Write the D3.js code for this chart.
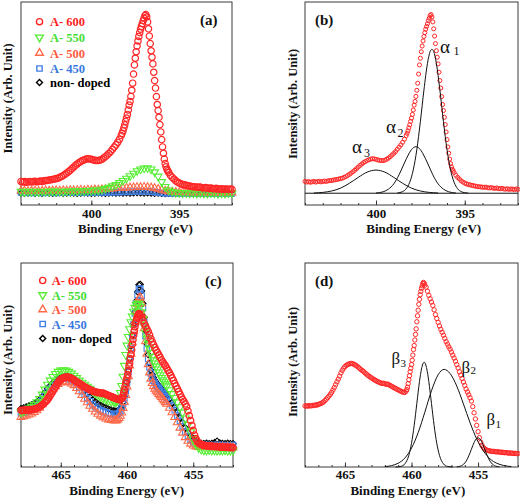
<!DOCTYPE html>
<html><head><meta charset="utf-8">
<script src="https://cdn.jsdelivr.net/npm/d3@7"></script>
<style>
body{margin:0;background:#fff}
svg{display:block}
</style>
</head><body>
<svg id="chart" width="520" height="498"></svg>
<script>
// ---------------- DATA ----------------
const legendLabels = ["A- 600", "A- 550", "A- 500", "A- 450", "non- doped"];
const xTitle = "Binding Energy (eV)";
const yTitle = "Intensity (Arb. Unit)";
const panelTags = ["(a)", "(b)", "(c)", "(d)"];
const n1sMajorTicks = [400, 395];
const n1sMinorTicks = [404,403,402,401,400,399,398,397,396,395,394,393,392];
const ti2pMajorTicks = [465, 460, 455];
const ti2pMinorTicks = [468,467,466,465,464,463,462,461,460,459,458,457,456,455,454,453,452];

// N 1s, A-600 : [binding energy, intensity]
const n1sA600 = [
[404.0,11.6],[403.9,11.3],[403.8,11.5],[403.7,11.2],[403.6,11.4],[403.5,11.6],[403.4,11.3],[403.3,11.5],[403.2,11.7],[403.1,11.4],
[403.0,11.6],[402.9,11.8],[402.8,11.6],[402.7,11.9],[402.6,12.0],[402.5,12.1],[402.4,12.3],[402.3,12.4],[402.2,12.6],[402.1,12.8],
[402.0,13.0],[401.9,13.2],[401.8,13.6],[401.7,14.0],[401.6,14.5],[401.5,15.1],[401.4,15.7],[401.3,16.4],[401.2,17.1],[401.1,17.9],
[401.0,18.7],[400.9,19.5],[400.8,20.2],[400.7,20.9],[400.6,21.4],[400.5,21.9],[400.4,22.3],[400.3,22.6],[400.2,22.8],[400.1,22.7],
[400.0,22.5],[399.9,22.2],[399.8,22.0],[399.7,21.9],[399.6,21.9],[399.5,22.1],[399.4,22.5],[399.3,23.1],[399.2,23.8],[399.1,24.6],
[399.0,25.4],[398.9,26.3],[398.8,27.4],[398.7,28.5],[398.6,29.6],[398.5,30.9],[398.4,32.4],[398.3,34.2],
[398.25,35.3],[398.20,36.5],[398.15,38.0],[398.10,39.5],[398.05,41.2],[398.00,42.8],[397.95,44.6],[397.90,46.8],[397.85,49.2],[397.80,51.0],
[397.75,53.5],[397.70,56.5],[397.65,60.0],[397.60,64.5],[397.55,69.0],[397.50,72.3],[397.45,75.5],[397.40,78.3],[397.35,80.8],[397.30,83.0],
[397.25,84.9],[397.20,86.6],[397.15,88.0],[397.10,89.3],[397.05,90.8],[397.00,92.0],[396.95,93.3],[396.90,93.8],[396.85,92.6],[396.80,90.2],
[396.75,86.8],[396.70,83.2],[396.65,79.5],[396.60,76.0],[396.55,72.8],[396.50,69.5],[396.45,65.4],[396.40,61.3],[396.35,57.6],[396.30,53.4],
[396.25,49.5],[396.20,46.5],[396.15,43.2],[396.10,39.6],[396.05,36.0],[396.00,32.2],[395.95,28.6],[395.90,25.5],[395.85,22.6],[395.80,20.4],
[395.75,18.8],[395.70,17.6],[395.65,16.8],
[395.6,16.0],[395.5,14.6],[395.4,13.6],[395.3,12.8],[395.2,11.9],[395.1,11.3],[395.0,10.8],[394.9,10.4],[394.8,10.1],[394.7,9.9],
[394.6,9.7],[394.5,9.5],[394.4,9.3],[394.3,9.1],[394.2,9.0],[394.1,8.9],[394.0,8.8],[393.9,8.7],[393.8,8.8],[393.7,8.5],
[393.6,8.4],[393.5,8.6],[393.4,8.3],[393.3,8.2],[393.2,8.4],[393.1,8.1],[393.0,8.0],[392.9,8.2],[392.8,7.9],[392.7,7.8],
[392.6,8.0],[392.5,7.7],[392.4,7.9],[392.3,7.8],[392.2,7.6],[392.1,7.9],[392.0,7.7]
];
// N 1s, other samples on a common energy grid
const n1sGrid = [404.0,403.8,403.6,403.4,403.2,403.0,402.8,402.6,402.4,402.2,
402.0,401.8,401.6,401.4,401.2,401.0,400.8,400.6,400.4,400.2,
400.0,399.8,399.6,399.4,399.2,399.0,398.8,398.6,398.4,398.2,
398.0,397.8,397.6,397.4,397.2,397.0,396.8,396.6,396.4,396.2,
396.0,395.8,395.6,395.4,395.2,395.0,394.8,394.6,394.4,394.2,
394.0,393.8,393.6,393.4,393.2,393.0,392.8,392.6,392.4,392.2,392.0];
const n1sA550 = [6.6,6.4,6.7,6.5,6.6,6.4,6.7,6.5,6.6,6.8,
6.6,6.7,6.5,6.8,6.7,6.9,6.8,7.0,6.9,7.1,
7.0,7.2,7.3,7.6,8.1,8.6,9.3,10.0,10.9,12.0,
13.1,14.3,15.5,16.8,17.6,18.1,18.2,17.6,16.2,14.1,
11.4,9.0,7.3,6.5,6.1,6.0,5.9,6.0,5.8,5.9,
5.7,5.9,5.8,5.7,5.9,5.8,5.6,5.8,5.7,5.9,5.8];
const n1sA500 = [7.0,7.1,6.9,7.0,7.1,6.9,7.0,7.2,7.0,7.1,
7.2,7.0,7.2,7.1,7.3,7.2,7.3,7.4,7.3,7.5,
7.4,7.6,7.5,7.7,7.8,7.9,8.0,8.2,8.3,8.4,
8.5,8.6,8.7,8.8,8.8,8.9,8.8,8.6,8.3,7.9,
7.4,7.0,6.7,6.5,6.4,6.3,6.4,6.2,6.3,6.1,
6.2,6.3,6.1,6.2,6.0,6.2,6.1,6.0,6.2,6.1,6.0];
const n1sA450 = [6.1,6.0,6.1,5.9,6.0,6.1,5.9,6.0,6.1,6.0,
5.9,6.1,6.0,6.1,6.0,6.1,6.0,6.2,6.1,6.0,
6.2,6.1,6.2,6.1,6.3,6.2,6.3,6.4,6.3,6.5,
6.4,6.6,6.5,6.7,6.6,6.7,6.6,6.5,6.3,6.1,
5.9,5.8,5.7,5.8,5.6,5.7,5.6,5.8,5.6,5.7,
5.6,5.5,5.7,5.6,5.5,5.7,5.6,5.5,5.6,5.5,5.6];
const n1sUndoped = [5.8,5.7,5.8,5.9,5.7,5.8,5.7,5.9,5.8,5.7,
5.8,5.9,5.7,5.8,5.9,5.8,5.7,5.8,5.9,5.8,
5.7,5.8,5.9,5.8,5.7,5.8,5.9,5.8,5.9,5.8,
5.9,5.8,5.9,6.0,5.9,5.8,5.9,5.8,5.7,5.8,
5.7,5.6,5.7,5.6,5.7,5.6,5.5,5.6,5.7,5.6,
5.5,5.6,5.5,5.6,5.7,5.5,5.6,5.5,5.6,5.5,5.6];

// N 1s fit (panel b)
const n1sFitBaseline = 5.8;
const alpha1 = [[398.8,5.9],[398.5,6.6],[398.3,8.0],[398.1,11.2],[397.9,17.3],[397.7,27.3],[397.5,41.1],[397.3,56.6],[397.1,69.8],[396.95,75.6],
[396.85,76.7],[396.75,75.6],[396.6,69.8],[396.4,56.6],[396.2,41.1],[396.0,27.3],[395.8,17.3],[395.6,11.2],[395.4,8.0],[395.2,6.6],[395.0,6.05],[394.8,5.85]];
const alpha2 = [[400.0,5.9],[399.6,6.5],[399.3,7.8],[399.0,10.4],[398.7,14.9],[398.4,20.7],[398.15,25.2],[397.95,27.8],[397.75,28.7],
[397.55,27.8],[397.35,25.2],[397.1,20.7],[396.8,14.9],[396.5,10.4],[396.2,7.8],[395.9,6.5],[395.5,5.9]];
const alpha3 = [[403.5,5.9],[403.0,6.2],[402.5,6.9],[402.0,8.3],[401.5,10.7],[401.0,13.6],[400.5,16.2],[400.0,17.2],
[399.5,16.2],[399.0,13.6],[398.5,10.7],[398.0,8.3],[397.5,6.9],[397.0,6.2],[396.5,5.9]];

// Ti 2p, A-600 : [binding energy, intensity]
const ti2pA600 = [
[468.0,30.8],[467.9,30.6],[467.8,30.9],[467.7,30.7],[467.6,31.0],[467.5,30.8],[467.4,31.1],[467.3,31.0],[467.2,31.3],[467.1,31.2],
[467.0,31.5],[466.9,31.8],[466.8,32.0],[466.7,32.4],[466.6,32.8],[466.5,33.5],[466.4,34.2],[466.3,34.9],[466.2,35.7],[466.1,36.6],
[466.0,37.6],[465.9,38.8],[465.8,40.1],[465.7,41.5],[465.6,42.9],[465.5,44.3],[465.4,45.8],[465.3,47.4],[465.2,48.7],[465.1,49.8],
[465.0,50.6],[464.9,51.2],[464.8,51.6],[464.7,51.9],[464.6,52.1],[464.5,52.2],[464.4,52.0],[464.3,51.7],[464.2,51.3],[464.1,50.8],
[464.0,50.3],[463.9,49.7],[463.8,49.1],[463.7,48.6],[463.6,48.1],[463.5,47.5],[463.4,46.9],[463.3,46.3],[463.2,45.8],[463.1,45.3],
[463.0,44.9],[462.9,44.4],[462.8,44.0],[462.7,43.6],[462.6,43.2],[462.5,42.9],[462.4,42.6],[462.3,42.3],[462.2,42.1],[462.1,42.2],
[462.0,41.9],[461.9,41.7],[461.8,41.8],[461.7,41.4],[461.6,41.1],[461.5,40.7],[461.4,40.3],[461.3,39.9],[461.2,39.6],[461.1,39.2],
[461.0,38.9],[460.9,38.5],[460.8,38.2],[460.7,37.9],[460.6,37.6],[460.5,37.6],[460.4,38.3],
[460.35,39.0],[460.30,40.2],[460.25,42.0],[460.20,44.0],[460.15,46.0],[460.10,48.0],[460.05,49.8],[460.00,51.6],[459.95,53.8],[459.90,56.4],
[459.85,59.2],[459.80,61.2],[459.75,64.0],[459.70,66.8],[459.65,69.6],[459.60,73.2],[459.55,76.2],[459.50,79.0],[459.45,82.0],[459.40,84.5],
[459.35,86.8],[459.30,88.5],[459.25,90.0],[459.20,91.3],[459.15,92.4],[459.10,93.0],[459.05,92.6],[459.00,91.6],
[458.9,90.6],[458.8,88.6],[458.7,86.5],[458.6,84.8],[458.5,83.1],[458.4,81.4],[458.3,79.2],[458.2,76.8],[458.1,74.8],[458.0,72.9],
[457.9,71.1],[457.8,69.4],[457.7,67.9],[457.6,66.4],[457.5,64.8],[457.4,63.2],[457.3,61.9],[457.2,60.6],[457.1,59.4],[457.0,57.9],
[456.9,56.4],[456.8,54.9],[456.7,53.3],[456.6,51.6],[456.5,49.9],[456.4,48.0],[456.3,46.3],[456.2,44.6],[456.1,42.8],[456.0,41.1],
[455.9,39.3],[455.8,37.8],[455.7,36.4],[455.6,34.9],[455.5,33.2],[455.4,30.4],[455.3,27.3],[455.2,24.2],[455.1,21.0],[455.0,17.8],
[454.9,14.8],[454.8,12.5],[454.7,10.9],[454.6,9.8],[454.5,9.1],[454.4,8.7],[454.3,8.4],[454.2,8.2],[454.1,8.1],[454.0,7.9],
[453.9,7.8],[453.8,7.9],[453.7,7.7],[453.6,7.6],[453.5,7.7],[453.4,7.5],[453.3,7.4],[453.2,7.5],[453.1,7.3],[453.0,7.2],
[452.9,7.3],[452.8,7.1],[452.7,7.0],[452.6,7.1],[452.5,6.9],[452.4,7.0],[452.3,6.8],[452.2,6.9],[452.1,6.7],[452.0,6.8]
];
// Ti 2p, other samples on a common energy grid
const ti2pGrid = [468.0,467.8,467.6,467.4,467.2,467.0,466.8,466.6,466.4,466.2,466.0,465.8,465.6,465.4,465.2,465.0,464.8,464.6,464.4,464.2,
464.0,463.8,463.6,463.4,463.2,463.0,462.8,462.6,462.4,462.2,462.0,461.8,461.6,461.4,461.2,
461.0,460.9,460.8,460.7,460.6,460.5,460.4,460.3,460.2,460.1,460.0,459.9,459.8,459.7,459.6,459.5,459.4,459.3,459.2,459.1,
459.0,458.9,458.8,458.7,458.6,458.5,458.4,458.3,458.2,458.1,458.0,457.9,457.8,457.7,457.6,457.5,457.4,457.3,457.2,457.1,457.0,
456.8,456.6,456.4,456.2,456.0,455.8,455.6,455.4,455.2,455.0,454.8,454.6,454.4,454.2,454.0,453.8,453.6,453.4,453.2,453.0,
452.8,452.6,452.4,452.2,452.0];
const ti2pA550 = [29.6,30.3,31.1,32.0,33.1,34.4,36.0,38.2,41.0,44.2,47.3,50.0,52.3,54.2,55.6,56.4,56.7,56.4,55.6,54.5,
53.1,51.6,50.0,48.6,47.3,46.0,44.7,43.3,41.8,40.5,39.4,38.5,37.7,37.0,36.5,
36.2,36.1,36.3,37.2,39.0,42.0,46.5,52.5,59.5,66.5,72.5,78.0,83.0,87.5,91.2,94.3,96.8,98.6,99.5,99.3,
97.5,94.0,89.5,85.0,80.8,77.0,73.7,70.6,67.8,65.2,63.0,61.0,59.0,57.1,55.2,53.4,51.7,50.2,48.9,47.6,46.3,
43.8,41.3,38.8,36.0,32.9,29.4,25.6,21.4,16.8,12.2,8.8,6.7,5.6,5.2,5.1,5.3,5.0,5.2,4.9,5.1,
5.0,5.2,4.9,5.1,5.0];
const ti2pA500 = [26.3,26.8,27.3,27.9,28.6,29.5,30.7,32.3,34.5,37.2,39.9,42.3,44.4,46.1,47.5,48.5,49.0,49.1,48.7,47.9,
46.8,45.0,42.9,40.5,38.1,35.8,33.6,31.6,29.9,28.4,27.2,26.2,25.4,24.8,24.4,
24.2,24.1,24.3,24.8,25.7,27.1,29.2,32.2,36.0,40.5,46.0,52.5,59.5,67.0,74.5,81.5,88.0,94.0,99.0,102.8,
103.4,99.5,92.0,83.5,75.0,67.0,60.3,55.0,51.0,48.2,46.2,44.6,43.3,42.2,41.2,40.2,39.2,38.1,37.0,35.9,34.8,
32.3,29.4,26.3,22.9,19.5,16.3,13.4,11.0,9.2,8.0,7.4,7.1,7.0,7.2,6.9,7.1,7.0,6.8,7.0,6.9,
7.1,6.8,7.0,6.9,6.8];
const ti2pA450 = [28.9,29.3,29.8,30.4,31.1,32.0,33.2,34.8,37.0,39.8,42.5,44.8,46.8,48.4,49.7,50.6,51.1,51.2,50.8,50.1,
49.1,47.4,45.4,43.1,40.8,38.6,36.6,34.7,33.2,31.9,30.9,30.1,29.5,28.9,28.5,
28.3,28.1,28.2,28.5,29.2,30.4,32.3,35.0,38.6,43.0,48.5,55.5,63.0,71.0,78.5,86.0,93.0,99.5,105.0,108.8,
109.0,104.5,96.5,87.5,78.5,70.5,63.8,58.5,54.5,51.8,49.8,48.3,47.0,45.9,44.9,43.9,42.9,41.9,40.9,39.9,38.9,
36.7,33.9,30.8,27.4,23.8,20.4,17.1,14.2,11.9,10.2,9.1,8.6,8.4,8.3,8.5,8.2,8.4,8.3,8.6,8.2,
8.4,8.1,8.3,8.2,8.4];
const ti2pUndoped = [31.9,32.4,33.0,33.6,34.3,35.1,36.2,37.6,39.6,42.2,44.6,46.6,48.3,49.8,51.0,51.9,52.5,52.7,52.4,51.9,
51.1,49.6,47.8,45.6,43.3,41.3,39.5,37.6,36.3,35.0,34.1,33.2,32.5,31.7,31.0,
30.5,30.2,30.1,30.3,30.8,31.8,33.4,36.0,39.5,43.5,49.0,56.0,64.0,72.0,79.0,86.5,94.0,101.0,107.0,111.5,
111.8,107.5,99.5,90.5,82.0,73.5,66.5,61.0,56.5,53.8,51.8,50.1,48.7,47.5,46.5,45.4,44.3,43.3,42.3,41.3,40.3,
38.2,35.6,32.6,29.5,26.0,22.8,19.6,16.6,14.2,12.2,10.6,9.8,9.5,9.4,9.6,9.3,9.5,9.9,10.9,9.8,
9.5,9.3,9.6,9.4,9.3];

// Ti 2p fit (panel d)
const beta1 = [[456.6,0.1],[456.3,0.5],[456.0,2.0],[455.8,4.1],[455.6,7.2],[455.4,10.7],[455.2,13.6],[455.0,14.7],
[454.8,13.6],[454.6,10.7],[454.4,7.2],[454.2,4.1],[454.0,2.0],[453.7,0.5],[453.4,0.1]];
const beta2 = [[462.0,0.2],[461.5,0.7],[461.0,1.9],[460.5,4.5],[460.0,9.5],[459.5,17.3],[459.0,27.6],[458.5,38.4],[458.0,46.5],[457.55,49.2],
[457.1,47.1],[456.6,40.8],[456.1,31.8],[455.6,22.3],[455.1,14.1],[454.6,8.1],[454.1,4.1],[453.6,1.9],[453.1,0.8],[452.5,0.2]];
const beta3 = [[461.2,0.0],[460.8,0.3],[460.5,1.6],[460.2,5.9],[460.0,11.9],[459.8,20.9],[459.6,32.0],[459.4,43.1],[459.25,49.4],[459.05,52.8],
[458.85,49.4],[458.7,43.1],[458.5,32.0],[458.3,20.9],[458.1,11.9],[457.9,5.9],[457.6,1.6],[457.3,0.3],[456.9,0.0]];

// ---------------- STYLE / LAYOUT ----------------
const SERIF = "'Liberation Serif', 'Tinos', 'Times New Roman', 'DejaVu Serif', serif";
const seriesStyle = [
  {color:"#ff2626", text:"#ff1f1f", shape:"circle"},
  {color:"#55ee33", text:"#44dd33", shape:"down"},
  {color:"#ff6a4a", text:"#ff5a3c", shape:"up"},
  {color:"#3f7fe8", text:"#3a78e0", shape:"square"},
  {color:"#000000", text:"#000000", shape:"diamond"}
];
const layout = {
  a:{x0:21, x1:232, y0:2,   y1:205, xd:[404,392], yd:[0,100], pad:4},
  b:{x0:305,x1:518, y0:2,   y1:205, xd:[404,392], yd:[0,100], pad:4},
  c:{x0:21, x1:233, y0:263, y1:467, xd:[468,452], yd:[-5.7,125.5], pad:3},
  d:{x0:305,x1:518, y0:263, y1:467, xd:[468,452], yd:[0,102.8], pad:3}
};

const svg = d3.select("#chart");
svg.append("rect").attr("width",520).attr("height",498).attr("fill","#fff");

function txt(sel){ return sel.attr("font-family", SERIF).style("font-family", SERIF); }

function symbolPath(shape, size){
  const t = shape==="circle" ? d3.symbolCircle : (shape==="down"||shape==="up") ? d3.symbolTriangle : d3.symbolSquare;
  return d3.symbol().type(t).size(size)();
}
function symbolRot(shape){ return shape==="down" ? 180 : shape==="diamond" ? 45 : 0; }
function symbolSize(shape, base){
  if (shape==="circle") return base;
  if (shape==="down"||shape==="up") return base*0.85;
  if (shape==="square") return base*0.95;
  return base*0.6;
}

function makePanel(L, majors, minors){
  const g = svg.append("g");
  const x = d3.scaleLinear().domain(L.xd).range([L.x0, L.x1]);
  const y = d3.scaleLinear().domain(L.yd).range([L.y1, L.y0]);
  const ax = g.append("g").attr("transform",`translate(0,${L.y1})`)
    .call(d3.axisBottom(x).tickValues(minors).tickSize(-2).tickFormat(""));
  ax.select(".domain").remove();
  ax.selectAll("line").attr("stroke","#333");
  const axM = g.append("g").attr("transform",`translate(0,${L.y1})`)
    .call(d3.axisBottom(x).tickValues(majors).tickSize(-4.5).tickPadding(L.pad).tickFormat(d3.format("d")));
  axM.select(".domain").remove();
  axM.attr("font-family",null).attr("font-size",null);
  axM.selectAll("line").attr("stroke","#333");
  txt(axM.selectAll("text")).attr("fill","#111").style("font-weight","bold").style("font-size","13px");
  g.append("rect").attr("x",L.x0).attr("y",L.y0).attr("width",L.x1-L.x0).attr("height",L.y1-L.y0)
    .attr("fill","none").attr("stroke","#3a3a3a").attr("stroke-width",1);
  return {g, x, y};
}

function drawMarks(P, pts, shape, color, base, sw){
  const d = symbolPath(shape, symbolSize(shape, base));
  const r = symbolRot(shape);
  P.g.append("g").selectAll("path").data(pts).join("path")
    .attr("d", d)
    .attr("transform", p => `translate(${P.x(p[0])},${P.y(p[1])})` + (r ? ` rotate(${r})` : ""))
    .attr("fill","none").attr("stroke",color).attr("stroke-width",sw);
}
function drawFit(P, pts){
  P.g.append("path").datum(pts)
    .attr("d", d3.line().x(p=>P.x(p[0])).y(p=>P.y(p[1])).curve(d3.curveMonotoneX))
    .attr("fill","none").attr("stroke","#111").attr("stroke-width",1);
}
function zipGrid(grid, vals){ return grid.map((e,i)=>[e, vals[i]]).filter(p=>p[1]!==undefined); }

function legend(x0, ys, textX, size){
  legendLabels.forEach((lab,i)=>{
    const st = seriesStyle[i];
    const r = symbolRot(st.shape);
    svg.append("path").attr("d", symbolPath(st.shape, symbolSize(st.shape, size)))
      .attr("transform",`translate(${x0},${ys[i]})` + (r?` rotate(${r})`:""))
      .attr("fill","none").attr("stroke",st.color).attr("stroke-width",1.4);
    txt(svg.append("text")).attr("x",textX).attr("y",ys[i]+4.5).text(lab)
      .attr("fill",st.text).style("font-weight","bold").style("font-size","12.5px");
  });
}
function titles(cxX, baseX, cyY, baseY){
  txt(svg.append("text")).attr("x",cxX).attr("y",baseX).attr("text-anchor","middle").text(xTitle)
    .style("font-weight","bold").style("font-size","13px").attr("fill","#111");
  txt(svg.append("text")).attr("transform",`translate(${baseY},${cyY}) rotate(-90)`).attr("text-anchor","middle").text(yTitle)
    .style("font-weight","bold").style("font-size","12.5px").attr("fill","#111");
}
function tag(t, x, y){
  txt(svg.append("text")).attr("x",x).attr("y",y).text(t).style("font-weight","bold").style("font-size","15px").attr("fill","#111");
}
function greek(ch, sub, x, y, fs, subX, subY, subFs){
  txt(svg.append("text")).attr("x",x).attr("y",y).text(ch).style("font-size",fs+"px").attr("fill","#111");
  txt(svg.append("text")).attr("x",subX).attr("y",subY).text(sub).style("font-size",subFs+"px").attr("fill","#111");
}

const n1sOthers = [n1sA550, n1sA500, n1sA450, n1sUndoped];
const ti2pOthers = [ti2pA550, ti2pA500, ti2pA450, ti2pUndoped];

// ---- panel (a)
const A = makePanel(layout.a, n1sMajorTicks, n1sMinorTicks);
[4,3,2,1].forEach(i => drawMarks(A, zipGrid(n1sGrid, n1sOthers[i-1]), seriesStyle[i].shape, seriesStyle[i].color, 30, 1.1));
drawMarks(A, n1sA600, "circle", seriesStyle[0].color, 32, 1.2);
legend(39.5, [21.7, 37.3, 53.0, 68.5, 82.5], 50, 30);
titles(135.5, 233, 98.5, 12);
tag(panelTags[0], 200, 24.5);

// ---- panel (b)
const B = makePanel(layout.b, n1sMajorTicks, n1sMinorTicks);
drawMarks(B, n1sA600, "circle", seriesStyle[0].color, 13, 1.0);
B.g.append("line").attr("x1",layout.b.x0).attr("x2",layout.b.x1)
  .attr("y1",B.y(n1sFitBaseline)).attr("y2",B.y(n1sFitBaseline)).attr("stroke","#111").attr("stroke-width",1);
[alpha1, alpha2, alpha3].forEach(c => drawFit(B, c));
greek("α","1", 440, 53, 19, 453.5, 54.5, 12);
greek("α","2", 386, 133, 19, 397.5, 137, 12);
greek("α","3", 352, 153, 19, 364, 156.5, 12);
titles(423.7, 233, 104, 297);
tag(panelTags[1], 315, 24.5);

// ---- panel (c)
const C = makePanel(layout.c, ti2pMajorTicks, ti2pMinorTicks);
[4,3,2,1].forEach(i => drawMarks(C, zipGrid(ti2pGrid, ti2pOthers[i-1]), seriesStyle[i].shape, seriesStyle[i].color, 32, 1.1));
drawMarks(C, ti2pA600, "circle", seriesStyle[0].color, 32, 1.3);
legend(42.7, [280.5, 295, 309.5, 324, 338.5], 51.7, 30);
titles(126.7, 494.5, 360, 11.5);
tag(panelTags[2], 205, 285.5);

// ---- panel (d)
const D = makePanel(layout.d, ti2pMajorTicks, ti2pMinorTicks);
drawMarks(D, ti2pA600, "circle", seriesStyle[0].color, 15, 1.0);
[beta1, beta2, beta3].forEach(c => drawFit(D, c));
greek("β","3", 391.5, 364, 17, 400.5, 367, 11);
greek("β","2", 461.5, 373, 17, 470.5, 374, 11);
greek("β","1", 486.5, 425, 17, 495.5, 428, 11);
titles(407.8, 494.5, 362, 296.5);
tag(panelTags[3], 315, 285.5);
</script>
</body></html>
